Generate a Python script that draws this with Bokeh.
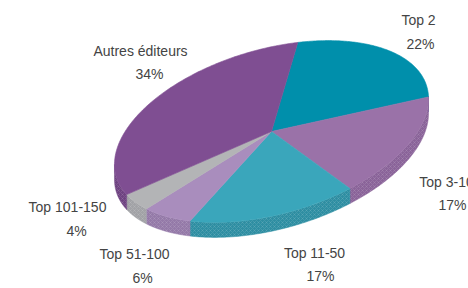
import numpy as np
from bokeh.plotting import figure
from bokeh.models import Range1d, ColumnDataSource
from bokeh.embed import file_html
from bokeh.resources import INLINE
from bokeh.core.properties import value

# ---- data ----
categories = ["Top 2", "Top 3-10", "Top 11-50", "Top 51-100", "Top 101-150", "Autres éditeurs"]
shares = [22, 17, 17, 6, 4, 34]
pct_labels = ["22%", "17%", "17%", "6%", "4%", "34%"]

# ---- styles ----
top_colors = ["#008fab", "#9a72a8", "#3aa6bb", "#a98dbd", "#b3b4b6", "#7f4e92"]
side_colors = ["#4d5f8c", "#8a6399", "#2e8ea2", "#9479a8", "#a1a2a6", "#6e4281"]

# label layout (screen px)
name_x = [418, 446, 314, 134, 67, 140]
name_y = [19, 181, 252, 253, 206, 50]
pct_x = [420, 452, 320, 142, 76, 149]
pct_y = [43, 204, 275, 277, 230, 73]

# ---- geometry of the tilted pie ----
cx, cy = 271.0, 131.0
a, b = 161.7, 82.3
phi = np.radians(-16.1)
depth = 15.0
start = np.radians(-72.0)


def pts(t, dy=0.0):
    u = a * np.cos(t)
    v = b * np.sin(t)
    x = cx + u * np.cos(phi) - v * np.sin(phi)
    y = cy + u * np.sin(phi) + v * np.cos(phi) + dy
    return x, y


t_right = np.arctan2(-b * np.sin(phi), a * np.cos(phi))
t_left = t_right + np.pi

total = float(sum(shares))
bounds = [start]
for s in shares:
    bounds.append(bounds[-1] + 2 * np.pi * s / total)

side_xs, side_ys, side_c = [], [], []
top_xs, top_ys = [], []
for i in range(len(shares)):
    t1, t2 = bounds[i], bounds[i + 1]
    lo, hi = max(t1, t_right - 0.03), min(t2, t_left)
    if hi > lo:
        tt = np.linspace(lo, hi, 80)
        x1, y1 = pts(tt)
        x2, y2 = pts(tt[::-1], depth)
        side_xs.append(list(np.concatenate([x1, x2])))
        side_ys.append(list(np.concatenate([y1, y2])))
        side_c.append(side_colors[i])
    tt = np.linspace(t1, t2, 120)
    x, y = pts(tt)
    top_xs.append([cx] + list(x))
    top_ys.append([cy] + list(y))

p = figure(width=468, height=288, output_backend="svg", toolbar_location=None,
           x_range=Range1d(0, 468), y_range=Range1d(288, 0), min_border=0)
p.axis.visible = False
p.grid.visible = False
p.outline_line_color = None
p.background_fill_color = "white"

p.patches(side_xs, side_ys, fill_color=side_c, line_color=side_c, line_width=0.5,
          hatch_pattern="x", hatch_color="white", hatch_alpha=0.18, hatch_scale=4,
          hatch_weight=0.6)
p.patches(top_xs, top_ys, fill_color=top_colors, line_color=top_colors, line_width=0.6)

src = ColumnDataSource(dict(nx=name_x, ny=name_y, px=pct_x, py=pct_y,
                            name=categories, pct=pct_labels))
p.text(x="nx", y="ny", text="name", source=src, text_align="center",
       text_baseline="middle", text_font=value("Liberation Sans"),
       text_font_size="14px", text_color="#444444")
p.text(x="px", y="py", text="pct", source=src, text_align="center",
       text_baseline="middle", text_font=value("Liberation Sans"),
       text_font_size="14px", text_color="#444444")

open("out.html", "w").write(file_html(p, INLINE))
